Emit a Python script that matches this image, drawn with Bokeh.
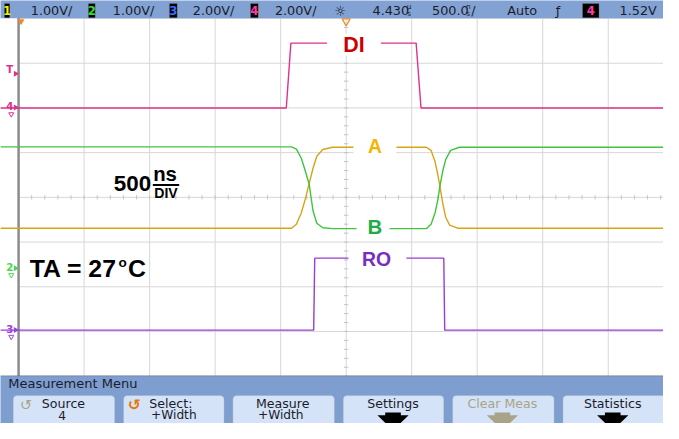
import math
from bokeh.plotting import figure
from bokeh.models import Range1d, Label, BoxAnnotation
from bokeh.embed import file_html
from bokeh.resources import INLINE

# ---------------- data ----------------
# graticule: 500 ns/div horizontally, divisions vertically
time_grid_ns = [-2500, -2000, -1500, -1000, -500, 0, 500, 1000, 1500, 2000, 2500]
volt_grid_div = [-4, -3, -2, -1, 0, 1, 2, 3, 4]

# channel 4 : DI  (in divisions)
di_t = [-2640, -457, -422, 534, 571, 2440]
di_v = [2.0, 2.0, 3.45, 3.45, 2.0, 2.0]

# channel 1 : A
a_t = [-2640, -417, -380, -343, -313, -283, -253, -224, -179, -104,
       611, 648, 678, 700, 715, 738, 760, 790, 850, 2440]
a_v = [-0.69, -0.69, -0.60, -0.35, -0.05, 0.30, 0.65, 0.92, 1.07, 1.12,
       1.12, 1.05, 0.80, 0.50, 0.25, -0.15, -0.45, -0.62, -0.69, -0.69]

# channel 2 : B
b_t = [-2640, -417, -380, -343, -313, -283, -253, -224, -179, -104,
       611, 648, 678, 700, 715, 738, 760, 797, 864, 2440]
b_v = [1.13, 1.13, 1.08, 0.88, 0.60, 0.30, -0.30, -0.58, -0.68, -0.70,
       -0.70, -0.60, -0.35, -0.05, 0.25, 0.60, 0.85, 1.05, 1.12, 1.12]

# channel 3 : RO
ro_t = [-2640, -248, -240, 745, 752, 2440]
ro_v = [-2.97, -2.97, -1.36, -1.36, -2.97, -2.97]

top_bar_items = ["1.00V/", "1.00V/", "2.00V/", "2.00V/"]
button_line1 = ["Source", "Select:", "Measure", "Settings", "Clear Meas", "Statistics"]
button_line2 = ["4", "+Width", "+Width", "", "", ""]

# ---------------- layout helpers ----------------
W, H = 663, 423
X0, XS = -2638.0, 500.0 / 67.1          # ns at left edge, ns per reference pixel
def fx(px):
    return X0 + px * XS
def fy(py):
    return (204.3 - py) / 46.4
def fs(n):
    return f"{n * 0.972:.1f}px"

SANS = "DejaVu Sans"
BOLD = "Liberation Sans"

p = figure(width=W, height=H, x_range=Range1d(fx(0), fx(679)), y_range=Range1d(fy(439), fy(0)),
           x_axis_type=None, y_axis_type=None, toolbar_location=None, output_backend="svg",
           min_border=0, outline_line_color=None, background_fill_color="white",
           border_fill_color="white")

# ---------------- graticule ----------------
gx0, gx1 = min(time_grid_ns), max(time_grid_ns)
gy0, gy1 = min(volt_grid_div), max(volt_grid_div)
grid_col = "#d7d7d7"
p.segment(x0=time_grid_ns, y0=[gy0] * len(time_grid_ns), x1=time_grid_ns, y1=[gy1] * len(time_grid_ns),
          line_color=grid_col, line_width=1)
p.segment(x0=[gx0] * len(volt_grid_div), y0=volt_grid_div, x1=[gx1 + 300] * len(volt_grid_div), y1=volt_grid_div,
          line_color=grid_col, line_width=1)
# minor ticks on centre lines
tx = [gx0 + 100 * k for k in range(int((gx1 - gx0) / 100) + 1)]
ty = [gy0 + 0.2 * k for k in range(int((gy1 - gy0) / 0.2) + 1)]
hl_x, hl_y = 2.2 * XS, 2.2 / 46.4
p.segment(x0=tx, y0=[-hl_y] * len(tx), x1=tx, y1=[hl_y] * len(tx), line_color="#c4c4c4", line_width=1)
p.segment(x0=[-hl_x] * len(ty), y0=ty, x1=[hl_x] * len(ty), y1=ty, line_color="#c4c4c4", line_width=1)
# left edge
p.segment(x0=[gx0], y0=[gy0], x1=[gx0], y1=[gy1 + 0.05], line_color="#8c8c8c", line_width=2.5)

# ---------------- traces ----------------
p.line(di_t, di_v, line_color="#e0308c", line_width=1.4)
p.line(a_t, a_v, line_color="#d8a416", line_width=1.4)
p.line(b_t, b_v, line_color="#3fc43f", line_width=1.4)
p.line(ro_t, ro_v, line_color="#9a3cd4", line_width=1.4)

# white gaps behind trace labels
gap_px = [362, 383.5, 381.5, 386]
gap_py = [46, 152, 236, 268]
gap_w = [54, 43, 33, 58]
gap_h = [22, 26, 22, 20]
p.rect(x=[fx(v) for v in gap_px], y=[fy(v) for v in gap_py], width=gap_w, height=gap_h,
       width_units="screen", height_units="screen", fill_color="white", line_color=None)

def label(px, py, text, size, color, font=SANS, style="normal", align="left", level="overlay"):
    lb = Label(x=fx(px), y=fy(py), text=text, text_font=font, text_font_size=fs(size),
               text_font_style=style, text_color=color, text_align=align, text_baseline="middle",
               level=level)
    p.add_layout(lb)
    return lb

# trace labels
label(362, 46, "DI", 22, "#cc0000", BOLD, "bold", "center")
label(383.5, 151, "A", 20, "#f5b400", BOLD, "bold", "center")
label(383.5, 235, "B", 21, "#1eae48", BOLD, "bold", "center")
label(385, 268, "RO", 20, "#7a2cc0", BOLD, "bold", "center")

# 500 ns/DIV
label(116, 190, "500", 23, "black", BOLD, "bold", "left")
label(168.5, 180, "ns", 21, "black", BOLD, "bold", "center")
p.segment(x0=[fx(156)], y0=[fy(191.5)], x1=[fx(183)], y1=[fy(191.5)], line_color="black", line_width=2)
label(169.5, 200, "DIV", 14.5, "black", BOLD, "bold", "center")

# TA = 27oC
label(30, 278, "TA = 27", 25.5, "black", BOLD, "bold", "left")
label(125, 272, "o", 14, "black", BOLD, "bold", "center")
label(130.5, 278, "C", 25.5, "black", BOLD, "bold", "left")

# left channel markers
mk = [("T", 72, "#e0308c"), ("4", 110, "#e0308c"), ("2", 277, "#4cd84c"), ("3", 341, "#a040e0")]
for t, py, c in mk:
    label(9.5, py, t, 10.5, c, SANS, "bold", "center")
p.scatter(x=[fx(15.5)] * 4, y=[fy(76), fy(111), fy(278), fy(342)], marker="triangle", angle=-math.pi / 2,
          size=6, fill_color=["#e0308c", "#e0308c", "#4cd84c", "#a040e0"], line_color=None)
p.scatter(x=[fx(11)] * 3, y=[fy(118), fy(285), fy(349)], marker="inverted_triangle",
          size=5, fill_color=None, line_color=["#e0308c", "#4cd84c", "#a040e0"], line_width=1)

# ---------------- top status bar ----------------
p.add_layout(BoxAnnotation(left=fx(-10), right=fx(700), top=fy(-10), bottom=fy(18.5),
                           fill_color="#82a2d3", fill_alpha=1, line_color=None))
box_px = [(4, 9.5), (90, 97), (173, 181), (256, 264), (596, 613)]
box_num = ["1", "2", "3", "4", "4"]
box_col = ["#f0f000", "#30e030", "#3a6cff", "#ff3aa0", "#ff3aa0"]
for (l, r), n, c in zip(box_px, box_num, box_col):
    p.add_layout(BoxAnnotation(left=fx(l), right=fx(r), top=fy(3), bottom=fy(18),
                               fill_color="black", fill_alpha=1, line_color="#9a9a9a", line_width=1))
    label((l + r) / 2, 10.8, n, 12, c, SANS, "bold", "center")
bar_col = "#1c1c2c"
for px, t in zip([31, 115, 197, 281], top_bar_items):
    label(px, 10.5, t, 13.2, bar_col)
label(348, 10.5, "☼", 14, bar_col, SANS, "normal", "center")
label(381, 10.5, "4.430", 13.2, bar_col)
label(418.5, 6.5, "µ", 7.5, bar_col, SANS, "normal", "center")
label(418.5, 14, "s", 7.5, bar_col, SANS, "normal", "center")
label(442, 10.5, "500.0", 13.2, bar_col)
label(479, 6.5, "n", 7.5, bar_col, SANS, "normal", "center")
label(479, 14, "s", 7.5, bar_col, SANS, "normal", "center")
label(482, 10.5, "/", 13.2, bar_col)
label(519, 10.5, "Auto", 13.2, bar_col)
label(571, 10.5, "ƒ", 13.2, bar_col, SANS, "normal", "center")
label(634, 10.5, "1.52V", 13.2, bar_col)

# orange time markers at the top of the screen
p.scatter(x=[fx(21)], y=[fy(21.5)], marker="inverted_triangle", size=7, fill_color="#f08a24",
          line_color=None, level="overlay")
p.scatter(x=[fx(354)], y=[fy(21.5)], marker="inverted_triangle", size=8, fill_color=None,
          line_color="#f08a24", line_width=1.2, level="overlay")

# ---------------- measurement menu ----------------
p.add_layout(BoxAnnotation(left=fx(-10), right=fx(700), top=fy(389.5), bottom=fy(460),
                           fill_color="#7e9ecf", fill_alpha=1, line_color="#3a3a4a", line_width=1))
label(8, 397.5, "Measurement Menu", 13.4, "#1c1c30")
btn_px = [(13, 117), (126, 229), (238, 342), (351, 454), (463, 567), (576, 690)]
for l, r in btn_px:
    p.add_layout(BoxAnnotation(left=fx(l), right=fx(r), top=fy(410), bottom=fy(460),
                               fill_color="#d4e3f7", fill_alpha=1, line_color="#9ca6b4", line_width=1,
                               border_radius=4))
txt_col = ["#1c1c2c", "#1c1c2c", "#1c1c2c", "#1c1c2c", "#a8a487", "#1c1c2c"]
l1_x = [64.5, 174.5, 289, 402, 514, 627]
l2_x = [63, 177.5, 287, 402, 514, 627]
for i in range(6):
    label(l1_x[i], 418.5, button_line1[i], 13, txt_col[i], SANS, "normal", "center")
    if button_line2[i]:
        label(l2_x[i], 430.5, button_line2[i], 12.6, txt_col[i], SANS, "normal", "center")
label(26, 419.5, "↺", 15, "#a8a487", SANS, "normal", "center")
label(137, 419.5, "↺", 16, "#e87800", SANS, "bold", "center")

# down arrows on Settings / Clear Meas / Statistics
arrow_cx = [402, 514, 627]
arrow_col = ["black", "#a8a487", "black"]
for cx, c in zip(arrow_cx, arrow_col):
    xs = [fx(cx - 8), fx(cx + 8), fx(cx + 8), fx(cx + 16), fx(cx), fx(cx - 16), fx(cx - 8)]
    ys = [fy(427.5), fy(427.5), fy(430.5), fy(430.5), fy(446), fy(430.5), fy(430.5)]
    p.patch(xs, ys, fill_color=c, line_color=None, level="overlay")

open("out.html", "w").write(file_html(p, INLINE))
